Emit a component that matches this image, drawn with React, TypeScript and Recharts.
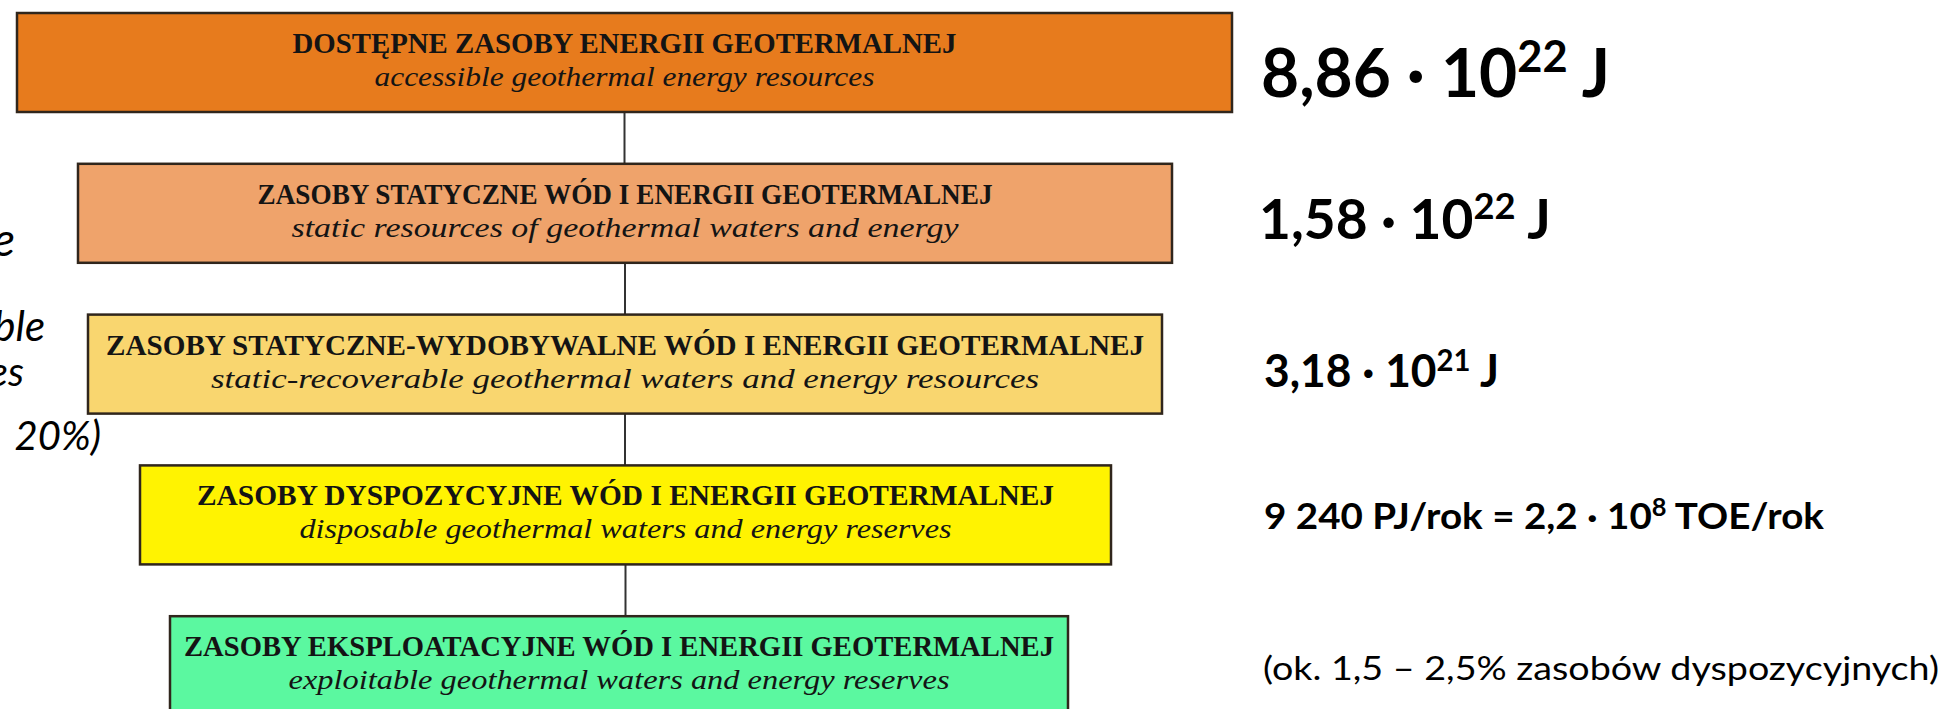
import React from "react";
import { BarChart, Bar, XAxis, YAxis, Cell, Customized } from "recharts";

// levels of geothermal resources, top to bottom
const levels = ["dostepne", "statyczne", "wydobywalne", "dyspozycyjne", "eksploatacyjne"];

const titles = [
  "DOSTĘPNE ZASOBY ENERGII GEOTERMALNEJ",
  "ZASOBY STATYCZNE WÓD I ENERGII GEOTERMALNEJ",
  "ZASOBY STATYCZNE-WYDOBYWALNE WÓD I ENERGII GEOTERMALNEJ",
  "ZASOBY DYSPOZYCYJNE WÓD I ENERGII GEOTERMALNEJ",
  "ZASOBY EKSPLOATACYJNE WÓD I ENERGII GEOTERMALNEJ",
];

const subtitles = [
  "accessible geothermal energy resources",
  "static resources of geothermal waters and energy",
  "static-recoverable geothermal waters and energy resources",
  "disposable geothermal waters and energy reserves",
  "exploitable geothermal waters and energy reserves",
];

// box extent on the horizontal axis (0 - 1942)
const boxStart = [17, 78, 88, 140, 170];
const boxEnd = [1232, 1172, 1162, 1111, 1068];

// amounts on the right: [text, superscript, text, ...]
const amounts = [
  ["8,86 · 10", "22", " J"],
  ["1,58 · 10", "22", " J"],
  ["3,18 · 10", "21", " J"],
  ["9 240 PJ/rok = 2,2 · 10", "8", " TOE/rok"],
  ["(ok. 1,5 – 2,5% zasobów dyspozycyjnych)"],
];

// left-hand note, cut by the slide edge
const sideNotes = ["e", "ble", "es", "20%)"];

// styles
const boxColors = ["#E77B1D", "#EFA36B", "#F9D66F", "#FFF301", "#5BF8A0"];
const titleWidth = [664, 735, 1038, 857, 870];
const subWidth = [500, 667, 828, 652, 661];
const amountX = [1261, 1259, 1264, 1264, 1263];
const amountWidth = [349, 292, 235, 560, 676];
const amountSize = [67, 56, 45, 37, 32];
const amountDy = [34, 26, 23, 14, 14];
const noteRight = [15, 45, 24, 101];
const noteBaseline = [256, 341, 386, 450];
const noteSize = [46, 42, 40, 40];

const W = 1942;
const H = 754;
const OFFSET = 13;
const BAR = 99;

const data = levels.map((key, i) => ({ key, range: [boxStart[i], boxEnd[i]] }));

const BoxShape = (props: any) => {
  const { x, y, width, height, index } = props;
  const cx = x + width / 2;
  const gap = H / levels.length - BAR;
  const fs = amountSize[index];
  const parts = amounts[index];
  const baseline = y + height / 2 + amountDy[index];
  return (
    <g>
      {index < levels.length - 1 && (
        <line x1={cx} x2={cx} y1={y + height} y2={y + height + gap} stroke="#333" strokeWidth={2} />
      )}
      <rect x={x} y={y} width={width} height={height} fill={boxColors[index]} stroke="#30261c" strokeWidth={2.5} />
      <text
        x={cx}
        y={y + 40}
        textAnchor="middle"
        fontFamily="'Liberation Serif', 'Times New Roman', serif"
        fontWeight="bold"
        fontSize={29}
        fill="#141414"
        textLength={titleWidth[index]}
        lengthAdjust="spacingAndGlyphs"
      >
        {titles[index]}
      </text>
      <text
        x={cx}
        y={y + 73}
        textAnchor="middle"
        fontFamily="'Liberation Serif', 'Times New Roman', serif"
        fontStyle="italic"
        fontSize={28}
        fill="#141414"
        textLength={subWidth[index]}
        lengthAdjust="spacingAndGlyphs"
      >
        {subtitles[index]}
      </text>
      <text
        x={amountX[index]}
        y={baseline}
        fontFamily="Lato, 'Open Sans', sans-serif"
        fontWeight={index < 4 ? 700 : 400}
        fontSize={fs}
        fill="#000"
        textLength={amountWidth[index]}
        lengthAdjust="spacingAndGlyphs"
      >
        {parts.map((p, k) =>
          k % 2 === 1 ? (
            <tspan key={k} fontSize={fs * 0.66} dy={-fs * 0.36}>{p}</tspan>
          ) : (
            <tspan key={k} dy={k > 0 ? fs * 0.36 : 0}>{p}</tspan>
          )
        )}
      </text>
    </g>
  );
};

const SideNote = () => (
  <g>
    {sideNotes.map((t, i) => (
      <text
        key={t}
        x={noteRight[i]}
        y={noteBaseline[i] + OFFSET}
        textAnchor="end"
        fontFamily="Lato, 'Open Sans', sans-serif"
        fontStyle="italic"
        fontSize={noteSize[i]}
        fill="#000"
      >
        {t}
      </text>
    ))}
  </g>
);

export default function App() {
  return (
    <div style={{ position: "absolute", left: 0, top: 0, width: W, height: 709, overflow: "hidden", background: "#fff" }}>
      <div style={{ marginTop: -OFFSET }}>
        <BarChart width={W} height={H} data={data} layout="vertical" margin={{ top: 0, right: 0, bottom: 0, left: 0 }}>
          <XAxis type="number" domain={[0, W]} hide />
          <YAxis type="category" dataKey="key" hide />
          <Bar dataKey="range" barSize={BAR} shape={BoxShape} isAnimationActive={false}>
            {data.map((d, i) => (
              <Cell key={d.key} fill={boxColors[i]} />
            ))}
          </Bar>
          <Customized component={SideNote} />
        </BarChart>
      </div>
    </div>
  );
}
